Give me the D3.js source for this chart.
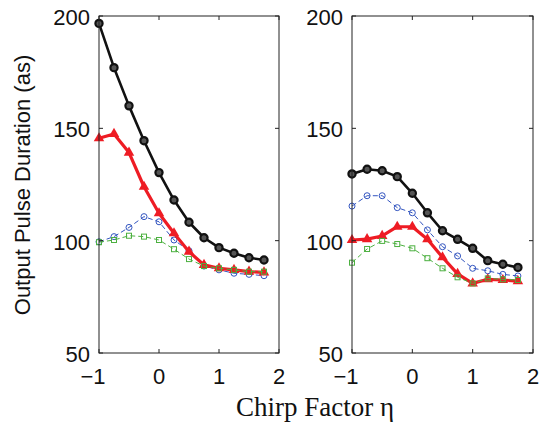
<!DOCTYPE html>
<html><head><meta charset="utf-8">
<script src="https://cdn.jsdelivr.net/npm/d3@7"></script>
<style>body{margin:0;background:#fff}svg{display:block}</style>
</head><body>
<svg id="c" width="544" height="422"></svg>
<script>
const eta = [-1,-0.75,-0.5,-0.25,0,0.25,0.5,0.75,1,1.25,1.5,1.75];
const leftBlack = [196.7,177.0,160.0,144.5,130.3,118.1,108.2,101.3,96.9,94.4,92.4,91.4];
const leftRed   = [145.6,147.5,139.2,124.0,112.2,103.3,95.1,89.2,87.7,87.0,86.2,85.9];
const leftBlue  = [99.5,101.8,105.9,110.7,108.4,100.3,95.5,88.7,87.0,85.5,85.0,84.4];
const leftGreen = [99.3,100.3,102.2,101.8,100.3,96.2,91.8,88.7,87.7,87.0,86.2,86.2];
const rightBlack = [129.7,131.8,131.1,128.5,121.1,112.4,104.4,100.6,96.6,91.1,89.5,88.1];
const rightRed   = [100.3,100.7,102.1,106.2,106.2,100.6,92.6,85.2,81.0,82.8,82.5,82.0];
const rightBlue  = [115.4,120.0,120.0,114.7,112.4,104.8,97.3,93.2,87.7,86.6,85.0,84.3];
const rightGreen = [90.2,96.3,99.9,98.5,96.6,92.2,87.7,83.7,81.0,83.2,82.8,82.5];
const xTicks = [-1,0,1,2];
const yTicks = [50,100,150,200];
const xTickLabels = ["\u22121","0","1","2"];
const yLabel = "Output Pulse Duration (as)";
const xLabel = "Chirp Factor \u03b7";

const svg = d3.select("#c");
const plotTop = 16, plotBottom = 353;
const y = d3.scaleLinear().domain([50,200]).range([plotBottom, plotTop]);
const panels = [
  {x0:99, x1:279, data:[leftBlack,leftBlue,leftRed,leftGreen]},
  {x0:352, x1:533, data:[rightBlack,rightBlue,rightRed,rightGreen]}
];
const styles = [
  {color:"#111", width:2.6, dash:null, marker:"circleBold"},
  {color:"#3355c0", width:1, dash:"5,3", marker:"circle"},
  {color:"#ee1c24", width:3.2, dash:null, marker:"triangle"},
  {color:"#4cb040", width:1, dash:"5,3", marker:"square"}
];
const font = "'Liberation Sans', Arial, Helvetica, sans-serif";

panels.forEach(p => {
  const x = d3.scaleLinear().domain([-1,2]).range([p.x0, p.x1]);
  const g = svg.append("g");
  p.data.forEach((vals, si) => {
    const st = styles[si];
    const pts = eta.map((e,i)=>[e, vals[i]]);
    const line = d3.line().x(d=>x(d[0])).y(d=>y(d[1]));
    g.append("path").attr("d", line(pts)).attr("fill","none")
      .attr("stroke", st.color).attr("stroke-width", st.width)
      .attr("stroke-dasharray", st.dash).attr("stroke-linejoin","round");
    const mg = g.append("g");
    pts.forEach(d => {
      const cx = x(d[0]), cy = y(d[1]);
      if (st.marker === "circleBold") {
        mg.append("circle").attr("cx",cx).attr("cy",cy).attr("r",3.6)
          .attr("fill","#555").attr("stroke","#111").attr("stroke-width",2.2);
      } else if (st.marker === "circle") {
        mg.append("circle").attr("cx",cx).attr("cy",cy).attr("r",3)
          .attr("fill","none").attr("stroke",st.color).attr("stroke-width",1);
      } else if (st.marker === "triangle") {
        mg.append("path").attr("d", d3.symbol().type(d3.symbolTriangle).size(48)())
          .attr("transform",`translate(${cx},${cy})`).attr("fill",st.color);
      } else {
        mg.append("rect").attr("x",cx-2.5).attr("y",cy-2.5).attr("width",5).attr("height",5)
          .attr("fill","none").attr("stroke",st.color).attr("stroke-width",1);
      }
    });
  });
  g.append("rect").attr("x",p.x0).attr("y",plotTop).attr("width",p.x1-p.x0).attr("height",plotBottom-plotTop)
    .attr("fill","none").attr("stroke","#222").attr("stroke-width",1);
  xTicks.forEach((t,i) => {
    const tx = x(t);
    g.append("line").attr("x1",tx).attr("x2",tx).attr("y1",plotBottom).attr("y2",plotBottom-4).attr("stroke","#222");
    g.append("line").attr("x1",tx).attr("x2",tx).attr("y1",plotTop).attr("y2",plotTop+4).attr("stroke","#222");
    g.append("text").attr("x",tx).attr("y",plotBottom+31)
      .attr("dx", t<0 ? -6 : 0)
      .attr("text-anchor","middle").attr("font-family",font).attr("font-size",22).attr("fill","#111")
      .text(xTickLabels[i]);
  });
  yTicks.forEach(t => {
    const ty = y(t);
    g.append("line").attr("x1",p.x0).attr("x2",p.x0+4).attr("y1",ty).attr("y2",ty).attr("stroke","#222");
    g.append("line").attr("x1",p.x1).attr("x2",p.x1-4).attr("y1",ty).attr("y2",ty).attr("stroke","#222");
    g.append("text").attr("x",p.x0-9).attr("y",ty+9)
      .attr("text-anchor","end").attr("font-family",font).attr("font-size",22).attr("fill","#111")
      .text(t);
  });
});

svg.append("text").attr("transform","translate(30,185) rotate(-90)")
  .attr("text-anchor","middle").attr("font-family",font).attr("font-size",22).attr("fill","#111")
  .text(yLabel);
svg.append("text").attr("x",315).attr("y",416)
  .attr("text-anchor","middle").attr("font-family","'Liberation Serif','Times New Roman',serif")
  .attr("font-size",27).attr("fill","#111").text(xLabel);
</script>
</body></html>
